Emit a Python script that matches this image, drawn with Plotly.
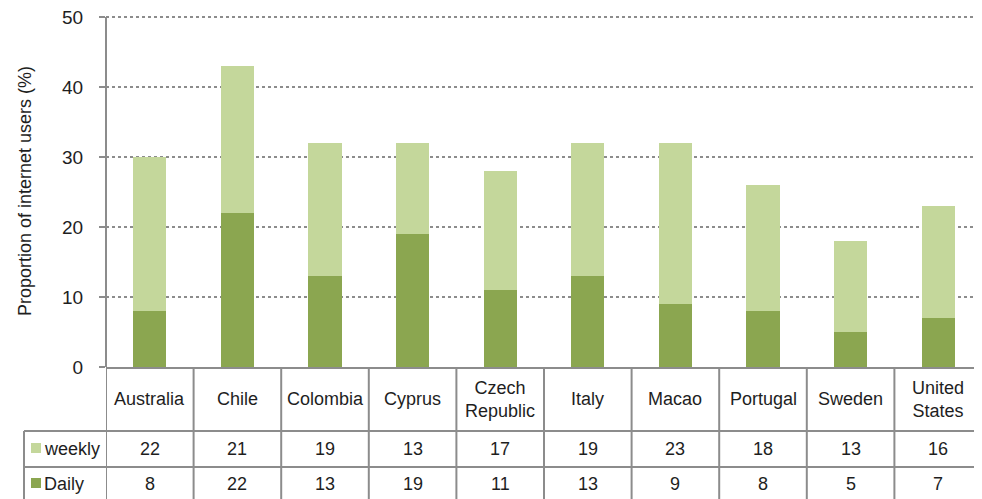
import plotly.graph_objects as go

# data
countries = ["Australia", "Chile", "Colombia", "Cyprus", "Czech<br>Republic",
             "Italy", "Macao", "Portugal", "Sweden", "United<br>States"]
daily = [8, 22, 13, 19, 11, 13, 9, 8, 5, 7]
weekly = [22, 21, 19, 13, 17, 19, 23, 18, 13, 16]
yticks = [0, 10, 20, 30, 40, 50]

# colours / fonts
c_daily = "#8ba650"
c_weekly = "#c4d79b"
c_line = "#8c8c8c"
c_text = "#1e1e1e"
font = "Liberation Sans Narrow, Arial Narrow, Liberation Sans, sans-serif"
fs = 18

# page has an 8px body margin, so the figure starts at (8, 8)
OFF = 8
W, H = 982 - OFF, 499 - OFF
# plot area starts 2px above the 50 gridline so that the gridline is drawn
ml, mr, mt, mb = 106 - OFF, 0, 15 - OFF, 132
pw, ph = W - ml - mr, H - mt - mb
ytop = ph / 7.0  # 7px per percentage point, as in the original


def px_y(py):
    # page pixel y -> paper y
    return (H - mb - (py - OFF)) / ph


def px_x(px):
    return (px - OFF - ml) / pw


xs = list(range(len(countries)))

fig = go.Figure()
fig.add_trace(go.Bar(x=xs, y=daily, name="Daily", marker_color=c_daily,
                     marker_line_width=0))
fig.add_trace(go.Bar(x=xs, y=weekly, name="weekly", marker_color=c_weekly,
                     marker_line_width=0))

shapes = []
# category separators running through the table
for i in range(len(countries)):
    shapes.append(dict(type="line", xref="x", yref="paper", x0=i - 0.5, x1=i - 0.5,
                       y0=0, y1=px_y(510), line=dict(color=c_line, width=2)))
# table row lines
for py in [431, 467]:
    shapes.append(dict(type="line", xref="paper", yref="paper", x0=px_x(24), x1=1,
                       y0=px_y(py), y1=px_y(py), line=dict(color=c_line, width=2)))
shapes.append(dict(type="line", xref="paper", yref="paper", x0=px_x(24), x1=px_x(24),
                   y0=px_y(431), y1=px_y(510), line=dict(color=c_line, width=2)))
# legend keys
shapes.append(dict(type="rect", xref="paper", yref="paper", x0=px_x(31), x1=px_x(41),
                   y0=px_y(453), y1=px_y(443), fillcolor=c_weekly, line_width=0))
shapes.append(dict(type="rect", xref="paper", yref="paper", x0=px_x(31), x1=px_x(41),
                   y0=px_y(488), y1=px_y(478), fillcolor=c_daily, line_width=0))
# y axis line only up to the 50 tick
shapes.append(dict(type="line", xref="paper", yref="y", x0=0, x1=0, y0=0, y1=yticks[-1],
                   line=dict(color=c_line, width=2)))

tfont = dict(size=fs, color=c_text, family=font)
annotations = []
for i, name in enumerate(countries):
    annotations.append(dict(x=i, y=px_y(399), xref="x", yref="paper", text=name,
                            showarrow=False, yanchor="middle", xanchor="center",
                            font=tfont))
    annotations.append(dict(x=i, y=px_y(449), xref="x", yref="paper", text=str(weekly[i]),
                            showarrow=False, yanchor="middle", font=tfont))
    annotations.append(dict(x=i, y=px_y(484), xref="x", yref="paper", text=str(daily[i]),
                            showarrow=False, yanchor="middle", font=tfont))
annotations.append(dict(x=px_x(42), y=px_y(449), xref="paper", yref="paper", text="weekly",
                        showarrow=False, xanchor="left", yanchor="middle", font=tfont))
annotations.append(dict(x=px_x(42), y=px_y(484), xref="paper", yref="paper", text="Daily",
                        showarrow=False, xanchor="left", yanchor="middle", font=tfont))

fig.update_layout(
    width=W, height=H,
    margin=dict(l=ml, r=mr, t=mt, b=mb),
    barmode="stack", bargap=0.62,
    plot_bgcolor="white", paper_bgcolor="white",
    showlegend=False,
    shapes=shapes, annotations=annotations,
    font=dict(family=font, size=fs, color=c_text),
    xaxis=dict(range=[-0.5, len(countries) - 0.5], showticklabels=False, showgrid=False,
               showline=True, linecolor=c_line, linewidth=2, zeroline=False, ticks=""),
    yaxis=dict(range=[0, ytop], tickvals=yticks, showgrid=True, gridcolor=c_line,
               griddash="dot", gridwidth=2, showline=False,
               ticks="outside", ticklen=6, tickwidth=2, tickcolor=c_line,
               ticklabelstandoff=12, zeroline=False, tickfont=dict(size=19),
               ticklabeloverflow="allow", automargin=False,
               title=dict(text="Proportion of internet users (%)", standoff=25,
                          font=dict(size=fs, color=c_text))),
)

fig.write_html("out.html")
